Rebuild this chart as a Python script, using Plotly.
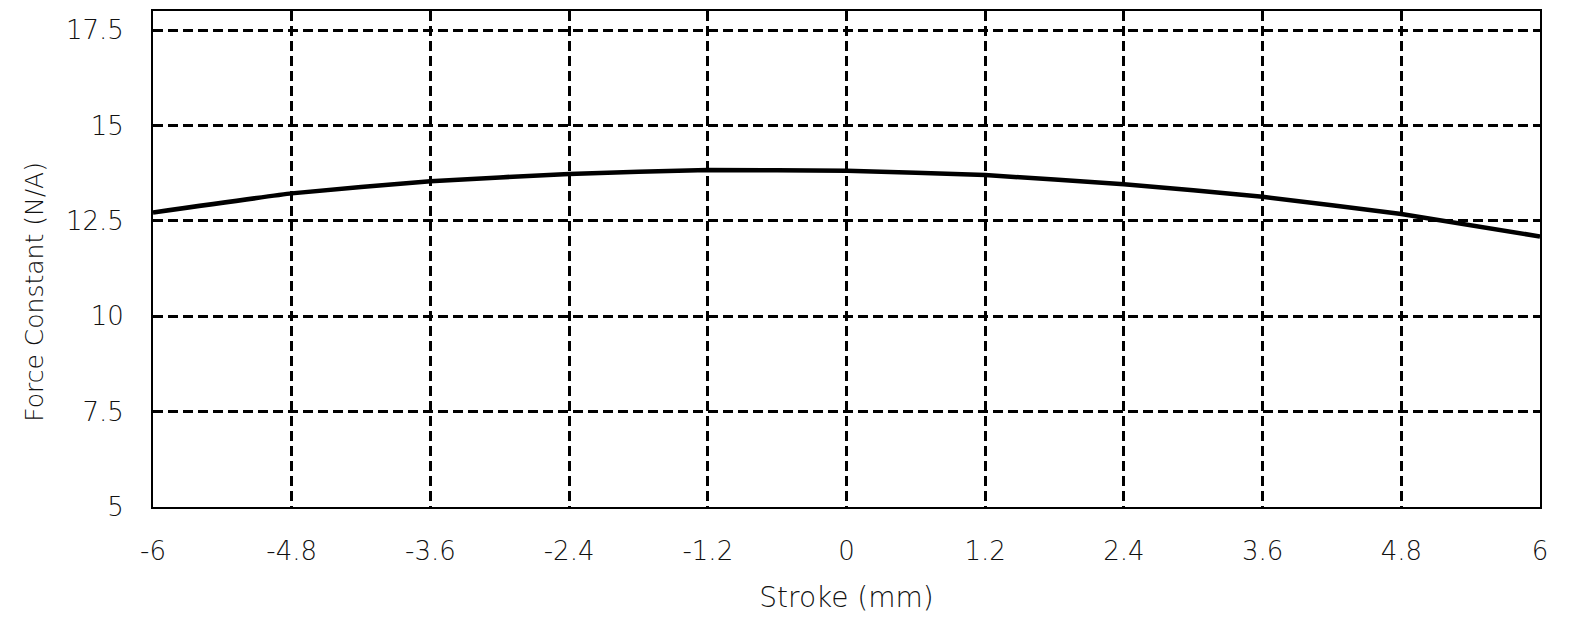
import plotly.graph_objects as go

stroke_mm = [-6.0, -4.8, -3.6, -2.4, -1.2, 0.0, 1.2, 2.4, 3.6, 4.8, 6.0]
force_constant = [12.72, 13.22, 13.54, 13.73, 13.83, 13.81, 13.70, 13.46, 13.13, 12.68, 12.09]

x_ticks = [-6, -4.8, -3.6, -2.4, -1.2, 0, 1.2, 2.4, 3.6, 4.8, 6]
x_tick_text = ["-6", "-4.8", "-3.6", "-2.4", "-1.2", "0", "1.2", "2.4", "3.6", "4.8", "6"]
y_ticks = [5, 7.5, 10, 12.5, 15, 17.5]
y_tick_text = ["5", "7.5", "10", "12.5", "15", "17.5"]

FONT = "'DejaVu Sans', sans-serif"
TXT = "#111"

fig = go.Figure()
fig.add_trace(go.Scatter(
    x=stroke_mm, y=force_constant, mode="lines",
    line=dict(color="black", width=4.5, shape="spline", smoothing=0.3),
    showlegend=False, hoverinfo="skip",
))

grid = dict(showgrid=True, gridcolor="black", gridwidth=2.8, griddash="10px,5px",
            zeroline=False, showline=True, linecolor="black", linewidth=1.8, mirror=True,
            ticks="", tickfont=dict(family=FONT, size=26, color=TXT, weight=200))

fig.update_xaxes(range=[-6, 6], tickvals=x_ticks, ticktext=x_tick_text,
                 title=dict(text="Stroke (mm)", font=dict(family=FONT, size=28, color=TXT, weight=200), standoff=22),
                 ticklabelstandoff=20, **grid)
fig.update_yaxes(range=[5, 18], tickvals=y_ticks, ticktext=y_tick_text,
                 ticklabelstandoff=22, **grid)

fig.add_annotation(
    text="Force Constant (N/A)", textangle=-90, showarrow=False,
    xref="paper", yref="paper", x=0, y=0.434, xanchor="center", yanchor="middle",
    xshift=-118, font=dict(family=FONT, size=25, color=TXT, weight=200),
)

fig.update_layout(
    width=1574, height=619,
    margin=dict(l=145, r=42, t=1, b=120),
    paper_bgcolor="white", plot_bgcolor="white",
)

fig.write_html("out.html")
